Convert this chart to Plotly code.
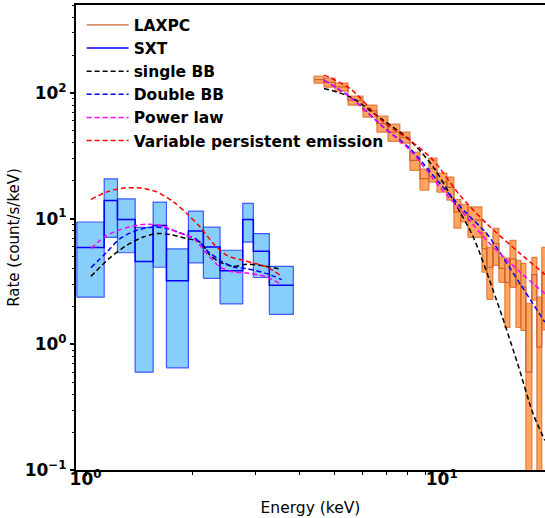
import numpy as np
import plotly.graph_objects as go

# ---- SXT spectrum: bin edges (keV), rate and 1-sigma error (count/s/keV)
sxt_edges = [0.945, 1.128, 1.229, 1.378, 1.548, 1.687, 1.944, 2.142, 2.386, 2.763, 2.959, 3.281, 3.832]
sxt_rate = [5.88, 13.9, 9.85, 4.55, 8.8, 3.2, 7.95, 5.95, 3.85, 9.85, 5.5, 2.95]
sxt_err = [3.51, 6.8, 4.5, 3.95, 4.7, 2.55, 3.5, 2.6, 1.75, 3.35, 2.1, 1.22]

# ---- LAXPC spectrum
laxpc_edges = [4.379, 4.672, 5.015, 5.455, 6.009, 6.578, 7.063, 7.630, 8.143, 8.688,
               9.207, 9.694, 10.34, 10.82, 11.32, 11.85, 12.97, 13.39, 13.92, 14.47,
               15.04, 15.54, 16.16, 16.68, 17.23, 17.91, 18.50, 19.10, 19.73]
laxpc_rate = [127.6, 121.0, 111.4, 87.0, 72.0, 57.0, 48.8, 44.3, 29.0, 20.8,
              24.9, 19.6, 17.7, 11.3, 11.2, 9.75, 5.76, 4.10, 6.31, 4.02,
              3.10, 4.78, 3.01, 2.85, 0.60, 3.58, 0.95, 3.6]
laxpc_err = [8.2, 10.0, 8.2, 7.2, 7.9, 8.3, 7.6, 4.5, 4.8, 4.0,
             5.4, 3.4, 3.7, 2.9, 1.8, 2.65, 2.02, 1.82, 2.06, 0.91,
             1.74, 1.94, 1.65, 1.56, 1.52, 1.34, 1.42, 2.3]

# ---- Model curves (SXT band and LAXPC band)
sbb_e_sxt = [1.035, 1.172, 1.306, 1.454, 1.585, 1.727, 1.924, 2.097, 2.237, 2.386, 2.600, 2.835, 3.090, 3.554]
sbb_r_sxt = [3.47, 4.89, 6.13, 7.14, 7.60, 7.46, 6.93, 6.51, 5.10, 4.51, 4.17, 4.33, 4.25, 3.95]
sbb_e_lax = [4.672, 5.527, 6.853, 8.143, 9.465, 10.77, 12.26, 14.26, 16.23, 18.06, 19.48]
sbb_r_lax = [108.4, 92.9, 60.6, 42.0, 25.8, 14.0, 7.14, 2.24, 0.744, 0.280, 0.172]

dbb_e_sxt = [1.035, 1.148, 1.250, 1.393, 1.550, 1.691, 1.924, 2.053, 2.189, 2.386, 2.600, 2.835, 3.227, 3.554]
dbb_r_sxt = [4.07, 5.42, 6.93, 8.07, 8.58, 8.33, 7.36, 6.80, 5.59, 4.66, 4.12, 4.00, 3.65, 3.27]
dbb_e_lax = [4.672, 5.527, 6.853, 8.143, 9.885, 11.75, 13.37, 16.58, 19.48]
dbb_r_lax = [126.2, 92.9, 53.6, 36.1, 19.0, 10.96, 7.60, 3.04, 1.50]

pl_e_sxt = [1.035, 1.148, 1.306, 1.470, 1.619, 1.804, 2.008, 2.189, 2.386, 2.600, 2.835, 3.227, 3.554]
pl_r_sxt = [5.77, 7.36, 8.48, 9.01, 8.84, 7.82, 6.93, 5.26, 4.12, 3.76, 3.69, 3.43, 2.98]
pl_e_lax = [4.672, 5.527, 6.853, 8.143, 9.885, 11.75, 13.37, 16.58, 19.48]
pl_r_lax = [126.2, 92.5, 53.3, 35.0, 17.8, 10.3, 6.72, 3.76, 2.53]

vpe_e_sxt = [1.035, 1.148, 1.277, 1.423, 1.585, 1.764, 1.924, 2.097, 2.285, 2.492, 2.715, 2.959, 3.227, 3.554]
vpe_r_sxt = [14.2, 16.3, 17.5, 17.5, 16.3, 13.6, 10.96, 8.58, 6.32, 5.10, 4.72, 4.43, 4.12, 3.47]
vpe_e_lax = [4.672, 5.527, 6.853, 8.143, 9.465, 11.25, 13.37, 16.58, 19.48]
vpe_r_lax = [138.3, 108.4, 58.8, 42.0, 29.1, 15.3, 9.13, 5.29, 3.60]

FONT = "DejaVu Sans"


def error_boxes(edges, rate, err, floor=1e-3):
    """One closed rectangle per bin spanning rate-err .. rate+err."""
    xs, ys = [], []
    for i, (r, e) in enumerate(zip(rate, err)):
        lo, hi = max(r - e, floor), r + e
        x0, x1 = edges[i], edges[i + 1]
        xs += [x0, x1, x1, x0, x0, None]
        ys += [lo, lo, hi, hi, lo, None]
    return xs, ys


def joined(e1, r1, e2, r2):
    return list(e1) + [None] + list(e2), list(r1) + [None] + list(r2)


fig = go.Figure()

# LAXPC error boxes + step
bx, by = error_boxes(laxpc_edges, laxpc_rate, laxpc_err)
fig.add_trace(go.Scatter(x=bx, y=by, mode="lines", fill="toself",
                         fillcolor="rgba(255,140,50,0.78)",
                         line=dict(color="rgba(215,100,35,0.75)", width=1.2),
                         showlegend=False, hoverinfo="skip"))
fig.add_trace(go.Scatter(x=laxpc_edges, y=laxpc_rate + [laxpc_rate[-1]], mode="lines",
                         line=dict(color="rgb(205,100,55)", width=1.2, shape="hv"),
                         name="LAXPC", legendrank=1))

# SXT error boxes + step
bx, by = error_boxes(sxt_edges, sxt_rate, sxt_err)
fig.add_trace(go.Scatter(x=bx, y=by, mode="lines", fill="toself",
                         fillcolor="rgb(135,206,250)",
                         line=dict(color="rgba(20,40,255,0.75)", width=1.2),
                         showlegend=False, hoverinfo="skip"))
fig.add_trace(go.Scatter(x=sxt_edges, y=sxt_rate + [sxt_rate[-1]], mode="lines",
                         line=dict(color="rgb(0,0,255)", width=1.5, shape="hv"),
                         name="SXT", legendrank=2))

# Model curves
models = [
    ("single BB", "black", sbb_e_sxt, sbb_r_sxt, sbb_e_lax, sbb_r_lax),
    ("Double BB", "blue", dbb_e_sxt, dbb_r_sxt, dbb_e_lax, dbb_r_lax),
    ("Power law", "magenta", pl_e_sxt, pl_r_sxt, pl_e_lax, pl_r_lax),
    ("Variable persistent emission", "red", vpe_e_sxt, vpe_r_sxt, vpe_e_lax, vpe_r_lax),
]
for k, (name, col, e1, r1, e2, r2) in enumerate(models):
    xx, yy = joined(e1, r1, e2, r2)
    fig.add_trace(go.Scatter(x=xx, y=yy, mode="lines", name=name,
                             line=dict(color=col, width=1.5, dash="5px,3px",
                                       shape="spline", smoothing=0.8),
                             connectgaps=False, legendrank=3 + k))

minor_x = [v * 10 ** p for p in (0, 1) for v in range(2, 10)]
minor_y = [v * 10 ** p for p in (-1, 0, 1, 2) for v in range(2, 10)]

tickfont = dict(family=FONT, size=17, color="black")

fig.update_layout(
    width=545, height=518,
    margin=dict(l=76, r=0, t=5, b=48),
    paper_bgcolor="white", plot_bgcolor="white",
    font=dict(family=FONT, color="black"),
    showlegend=True,
    legend=dict(x=0.012, y=0.993, xanchor="left", yanchor="top",
                bgcolor="rgba(0,0,0,0)", borderwidth=0,
                font=dict(family=FONT, size=15.5, color="black", weight="bold"),
                itemwidth=42, tracegroupgap=0, traceorder="normal"),
    xaxis=dict(type="log", range=[np.log10(0.94), np.log10(19.5)],
               showgrid=False, zeroline=False,
               showline=True, linecolor="black", linewidth=2, mirror=True,
               ticks="outside", ticklen=4, tickwidth=1.5, tickcolor="black",
               tickvals=[1, 10],
               ticktext=["<b>10<sup>0</sup></b>", "<b>10<sup>1</sup></b>"],
               tickfont=tickfont, ticklabelstandoff=-11,
               minor=dict(tickvals=minor_x, ticks="outside", ticklen=2.5,
                          tickwidth=1, tickcolor="black", showgrid=False),
               title=dict(text="Energy (keV)", font=dict(family=FONT, size=15.5),
                          standoff=14)),
    yaxis=dict(type="log", range=[-1, np.log10(500)],
               showgrid=False, zeroline=False,
               showline=True, linecolor="black", linewidth=2,
               ticks="outside", ticklen=4, tickwidth=1.5, tickcolor="black",
               tickvals=[0.1, 1, 10, 100],
               ticktext=["<b>10<sup>−1</sup></b>", "<b>10<sup>0</sup></b>",
                         "<b>10<sup>1</sup></b>", "<b>10<sup>2</sup></b>"],
               tickfont=tickfont,
               minor=dict(tickvals=minor_y, ticks="outside", ticklen=2.5,
                          tickwidth=1, tickcolor="black", showgrid=False),
               title=dict(text="Rate (count/s/keV)", font=dict(family=FONT, size=15),
                          standoff=1)),
)

fig.write_html("out.html")
